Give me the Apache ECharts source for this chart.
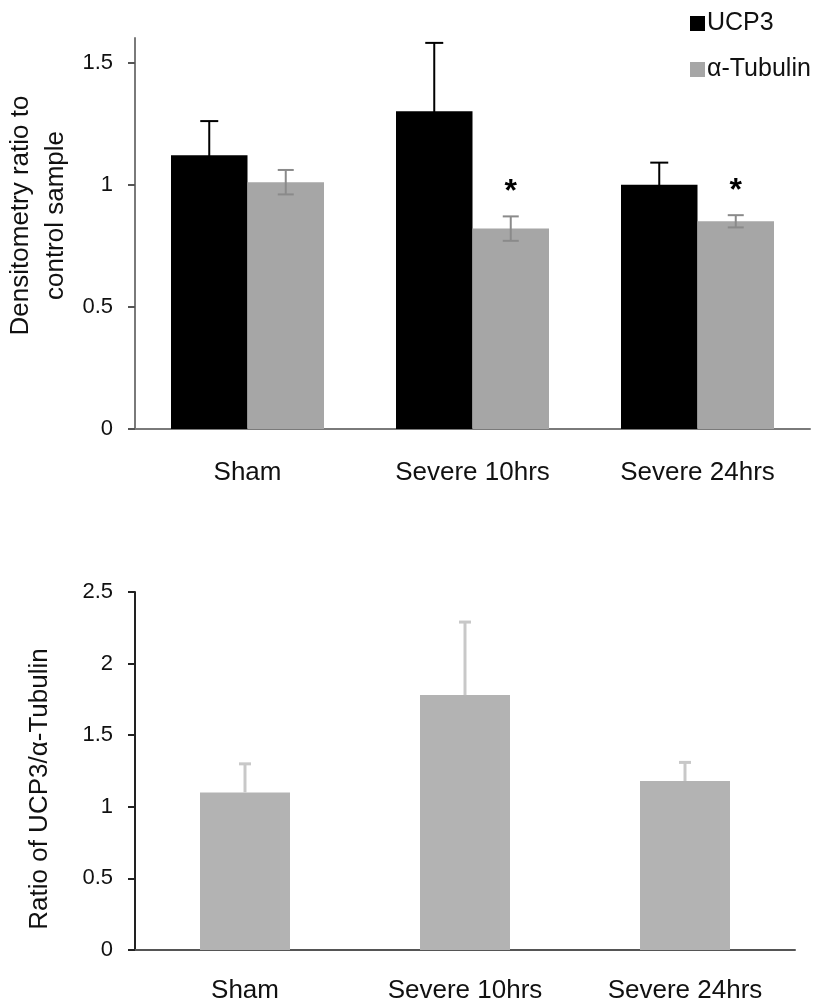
<!DOCTYPE html>
<html>
<head>
<meta charset="utf-8">
<script src="https://cdn.jsdelivr.net/npm/echarts@6/dist/echarts.min.js"></script>
<style>
  html, body { margin: 0; padding: 0; background: #fff; }
  #chart { width: 818px; height: 1007px; }
</style>
</head>
<body>
<div id="chart"></div>
<script>
const categories = ["Sham", "Severe 10hrs", "Severe 24hrs"];

// top panel: densitometry
const ucp3 = [1.12, 1.30, 1.00];
const ucp3Err = [0.14, 0.28, 0.09];
const tubulin = [1.01, 0.82, 0.85];
const tubulinErr = [0.05, 0.05, 0.025];
const sigMarks = ["", "*", "*"];
const topTicks = [0, 0.5, 1, 1.5];

// bottom panel: ratio
const ratio = [1.10, 1.78, 1.18];
const ratioErr = [0.20, 0.51, 0.13];
const bottomTicks = [0, 0.5, 1, 1.5, 2, 2.5];

const FONT = "Liberation Sans";
const TOP_GAP = 0.32;

const chart = echarts.init(document.getElementById("chart"));

// error bar renderer; offset is in bar widths from category centre
function errBar(vals, errs, opts) {
  return function (params, api) {
    const i = params.dataIndex;
    const catW = api.size([1, 0])[0];
    const barW = catW * (1 - opts.gap) / opts.nBars;
    const cx = api.coord([i, 0])[0] + opts.offset * barW;
    const top = api.coord([i, vals[i] + errs[i]])[1];
    const bot = api.coord([i, opts.both ? vals[i] - errs[i] : vals[i]])[1];
    const cap = opts.cap;
    const st = { stroke: opts.color, lineWidth: opts.width };
    const children = [
      { type: "line", shape: { x1: cx, y1: top, x2: cx, y2: bot }, style: st },
      { type: "line", shape: { x1: cx - cap, y1: top, x2: cx + cap, y2: top }, style: st }
    ];
    if (opts.both) {
      children.push({ type: "line", shape: { x1: cx - cap, y1: bot, x2: cx + cap, y2: bot }, style: st });
    }
    if (opts.marks && opts.marks[i]) {
      children.push({
        type: "text",
        style: {
          x: cx, y: top - 24, text: opts.marks[i],
          fill: "#000", font: "bold 32px " + FONT,
          align: "center", verticalAlign: "middle"
        }
      });
    }
    return { type: "group", children: children };
  };
}

const axisLabelStyle = { color: "#111", fontSize: 22, fontFamily: FONT };
const catLabelStyle = { color: "#111", fontSize: 26, fontFamily: FONT };

chart.setOption({
  animation: false,
  textStyle: { fontFamily: FONT },
  legend: {
    data: ["UCP3", "α-Tubulin"],
    orient: "vertical",
    left: 685,
    top: 6,
    itemWidth: 15,
    itemHeight: 15,
    itemGap: 21,
    icon: "rect",
    textStyle: { fontSize: 25, color: "#111", fontFamily: FONT, padding: [0, 0, 0, -3] }
  },
  grid: [
    { left: 135, top: 38, width: 675, height: 391, outerBoundsMode: "none" },
    { left: 135, top: 592, width: 660, height: 358, outerBoundsMode: "none" }
  ],
  xAxis: [
    {
      gridIndex: 0, type: "category", data: categories,
      axisLine: { lineStyle: { color: "#7a7a7a", width: 2 } },
      axisTick: { length: 6, lineStyle: { color: "#7a7a7a", width: 2 } },
      axisLabel: Object.assign({ margin: 31 }, catLabelStyle)
    },
    {
      gridIndex: 1, type: "category", data: categories,
      axisLine: { lineStyle: { color: "#555", width: 2 } },
      axisTick: { length: 6, lineStyle: { color: "#555", width: 2 } },
      axisLabel: Object.assign({ margin: 28 }, catLabelStyle)
    }
  ],
  yAxis: [
    {
      gridIndex: 0, type: "value", min: 0, max: 1.6, interval: 0.5,
      name: "Densitometry ratio to\ncontrol sample",
      nameLocation: "middle", nameGap: 62, nameMoveOverlap: false,
      nameTextStyle: { fontSize: 26, color: "#111", lineHeight: 35, fontFamily: FONT, padding: [0, 0, 0, 36] },
      splitLine: { show: false },
      axisLine: { show: true, lineStyle: { color: "#7a7a7a", width: 2 } },
      axisTick: { show: true, length: 7, customValues: topTicks, lineStyle: { color: "#555", width: 2 } },
      axisLabel: Object.assign({ margin: 22, customValues: topTicks }, axisLabelStyle)
    },
    {
      gridIndex: 1, type: "value", min: 0, max: 2.5, interval: 0.5,
      name: "Ratio of UCP3/α-Tubulin",
      nameLocation: "middle", nameGap: 82, nameMoveOverlap: false,
      nameTextStyle: { fontSize: 26, color: "#111", fontFamily: FONT, padding: [0, 36, 0, 0] },
      splitLine: { show: false },
      axisLine: { show: true, lineStyle: { color: "#222", width: 2 } },
      axisTick: { show: true, length: 7, lineStyle: { color: "#222", width: 2 } },
      axisLabel: Object.assign({ margin: 22, customValues: bottomTicks }, axisLabelStyle)
    }
  ],
  series: [
    {
      name: "UCP3", type: "bar", xAxisIndex: 0, yAxisIndex: 0,
      data: ucp3, barGap: "0%", barCategoryGap: TOP_GAP * 100 + "%",
      itemStyle: { color: "#000" }
    },
    {
      name: "α-Tubulin", type: "bar", xAxisIndex: 0, yAxisIndex: 0,
      data: tubulin, barGap: "0%", barCategoryGap: TOP_GAP * 100 + "%",
      itemStyle: { color: "#a6a6a6" }
    },
    {
      type: "custom", xAxisIndex: 0, yAxisIndex: 0, z: 5,
      data: ucp3.map((v, i) => [i, v]),
      renderItem: errBar(ucp3, ucp3Err, { gap: TOP_GAP, nBars: 2, offset: -0.5, cap: 9, color: "#000", width: 2, both: true })
    },
    {
      type: "custom", xAxisIndex: 0, yAxisIndex: 0, z: 5,
      data: tubulin.map((v, i) => [i, v]),
      renderItem: errBar(tubulin, tubulinErr, { gap: TOP_GAP, nBars: 2, offset: 0.5, cap: 8, color: "#8a8a8a", width: 2, both: true, marks: sigMarks })
    },
    {
      name: "Ratio", type: "bar", xAxisIndex: 1, yAxisIndex: 1,
      data: ratio, barWidth: 90,
      itemStyle: { color: "#b3b3b3" }
    },
    {
      type: "custom", xAxisIndex: 1, yAxisIndex: 1, z: 5,
      data: ratio.map((v, i) => [i, v]),
      renderItem: errBar(ratio, ratioErr, { gap: 1 - 90 / 220, nBars: 1, offset: 0, cap: 6, color: "#c8c8c8", width: 3, both: false })
    }
  ]
});
</script>
</body>
</html>
